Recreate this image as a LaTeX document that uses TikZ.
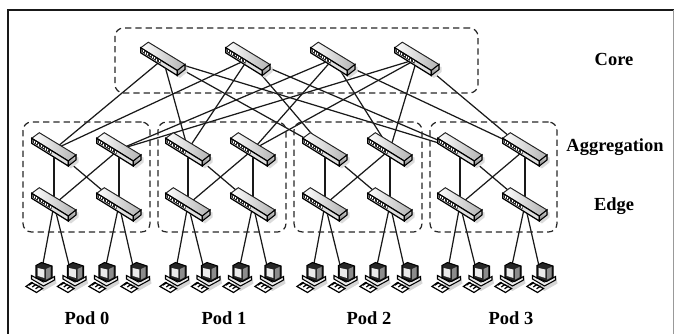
\documentclass[tikz,border=0pt]{standalone}
\usepackage{fontspec}
\setmainfont{Liberation Serif}
\usetikzlibrary{fit, backgrounds}

% switch drawn inside its node, coordinates in reference pixels
\newcommand{\switchglyph}{%
  \begin{scope}[shift={(path picture bounding box.center)}]
    \fill[black!14] (-19,-4) -- (17,19) -- (24.5,13) -- (24.5,8) -- cycle;
    \filldraw[draw=black!85, line width=.55pt, left color=white, right color=black!30]
      (-14.7,-16.8) -- (22,5.5) -- (14.3,11.5) -- (-22.3,-11.2) -- cycle;
    \filldraw[draw=black, line width=.7pt, fill=black!12]
      (-22.3,-11.2) -- (14.3,11.5) -- (14.3,16.5) -- (-22.3,-6.2) -- cycle;
    \filldraw[draw=black, line width=.6pt, top color=black!15, bottom color=black!50]
      (14.3,11.5) -- (22,5.5) -- (22,10.5) -- (14.3,16.5) -- cycle;
    \fill[black!85] (-21.5,-10) -- (-2.5,1.8) -- (-2.5,4.6) -- (-21.5,-7.2) -- cycle;
    \foreach \t in {0,...,7}
      \draw[white, line width=.45pt] ({-20+2.3*\t},{-8.7+1.43*\t}) -- ++(0,1.9);
  \end{scope}}

% desktop computer drawn inside its node
\newcommand{\pcglyph}{%
  \begin{scope}[shift={(path picture bounding box.center)}]
    \fill[black!16] (-7,8) -- (3,14) -- (16,6.5) -- (15,1) -- cycle;
    \filldraw[draw=black, line width=.6pt, fill=black!8]
      (-9,2) -- (3,9) -- (14,3) -- (14,-.5) -- (3,5) -- (-9,-1.5) -- cycle;
    \filldraw[draw=black, line width=.6pt, fill=black!85]
      (-4.5,-11.5) -- (1,-14.5) -- (11.5,-11) -- (11.5,1) -- (5,4.5) -- (-4.5,1) -- cycle;
    \fill[black!8] (-3,-9) -- (3.8,-7.5) -- (3.8,1) -- (-3,-1.2) -- cycle;
    \fill[black!45] (5.5,-8) -- (10,-10) -- (10,.2) -- (5.5,2.6) -- cycle;
    \filldraw[draw=black, line width=.7pt, fill=white]
      (-14.5,9.5) -- (-9,5.5) -- (2,11.5) -- (-4,15.5) -- cycle;
    \foreach \t in {0,1,2}
      \draw[black, line width=.7pt] ({-11.5+3.3*\t},{8.2+1.8*\t}) -- ++(4,-2.8);
  \end{scope}}

\tikzset{
  switchbox/.style={minimum width=1cm, minimum height=.8cm, inner sep=0pt,
                    path picture={\switchglyph}},
  pcbox/.style    ={minimum width=.66cm, minimum height=.66cm, inner sep=0pt,
                    path picture={\pcglyph}},
  group/.style    ={draw=black!85, line width=.7pt, dash pattern=on 1.25mm off .8mm,
                    rounded corners=1.7mm, inner sep=0pt},
  link/.style     ={draw=black!90, line width=.7pt},
  tier/.style     ={font=\fontsize{10.5}{12}\selectfont\bfseries, inner sep=0pt},
  frameline/.style={draw=black!90, line width=.95pt}
}

\begin{document}
\begin{tikzpicture}[x=.02cm, y=-.02cm]
\useasboundingbox (0,0) rectangle (674,334);

% =================== Core switches ===================
\foreach \n/\x in {1/163, 2/248, 3/333, 4/417}
  \node[switchbox] (core\n) at (\x,59) {};

% =================== Pods ===================
\foreach \p/\dx in {0/0, 1/134, 2/271, 3/406} {
  \node[switchbox] (agg\p a) at ({54+\dx},149.5) {};
  \node[switchbox] (agg\p b) at ({119+\dx},149.5) {};
  \node[switchbox] (edge\p a) at ({54+\dx},204.5) {};
  \node[switchbox] (edge\p b) at ({119+\dx},204.5) {};
  \foreach \h/\hx in {1/40.5, 2/72, 3/103.5, 4/135.5}
    \node[pcbox] (pc\p\h) at ({\hx+\dx},277) {};
}

% =================== Dashed groups ===================
\node[group, fit={(115,28) (478,93)}] (coregroup) {};
\foreach \p/\l/\r in {0/23/150, 1/158/286, 2/294/422, 3/430/557}
  \node[group, fit={(\l,122) (\r,232)}] (podgroup\p) {};

% =================== Labels ===================
\node[tier] (corelabel) at (614,59) {Core};
\node[tier] (agglabel) at (615,147.5) {Aggregation};
\node[tier] (edgelabel) at (614,206.5) {Edge};
\foreach \p/\x in {0/87, 1/224, 2/369, 3/511}
  \node[tier] (podlabel\p) at (\x,318) {Pod \p};

% --- Links ---
\begin{scope}[on background layer]
  \draw[frameline] (8,334) -- (8,10) -- (674,10);
  \draw[draw=black!40, line width=.5pt] (673.5,10) -- (673.5,334);
  \foreach \p in {0,1,2,3} {
    % core -> aggregation
    \draw[link] (core1.center) -- (agg\p a.center);
    \draw[link] (core2.center) -- (agg\p a.center);
    \draw[link] (core3.center) -- (agg\p b.center);
    \draw[link] (core4.center) -- (agg\p b.center);
    % aggregation -> edge
    \draw[link] (agg\p a.center) -- (edge\p a.center);
    \draw[link] (agg\p a.center) -- (edge\p b.center);
    \draw[link] (agg\p b.center) -- (edge\p a.center);
    \draw[link] (agg\p b.center) -- (edge\p b.center);
    % edge -> hosts
    \draw[link] (edge\p a.center) -- (pc\p1.center);
    \draw[link] (edge\p a.center) -- (pc\p2.center);
    \draw[link] (edge\p b.center) -- (pc\p3.center);
    \draw[link] (edge\p b.center) -- (pc\p4.center);
  }
\end{scope}

\end{tikzpicture}
\end{document}
